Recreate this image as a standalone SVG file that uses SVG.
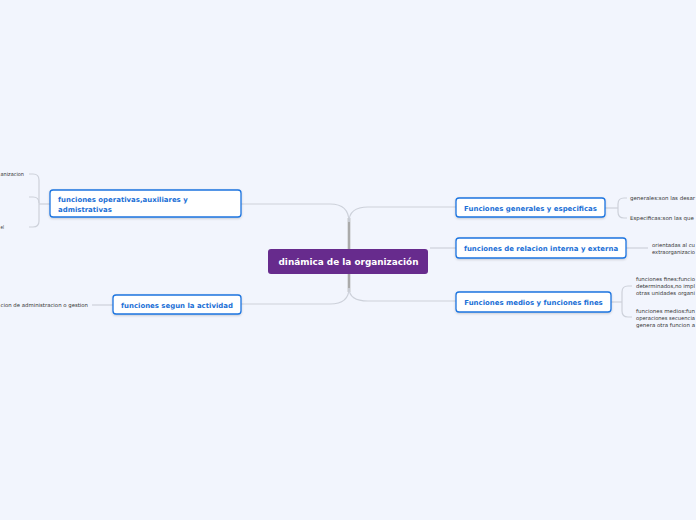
<svg xmlns="http://www.w3.org/2000/svg" width="696" height="520" viewBox="0 0 696 520">
<style>
.node rect{fill:#fff;stroke:#1c74e0;stroke-width:1.3}
.node text{font-family:"DejaVu Sans",Verdana,sans-serif;font-weight:bold;font-size:6.95px;fill:#1a6fd6}
.leaf{font-family:"DejaVu Sans",Verdana,sans-serif;font-size:5.3px;fill:#333}
.con path{fill:none;stroke:#cdd1da;stroke-width:1.2}
.con .trunk{stroke:#aaaaaa;stroke-width:2.6}
</style>
<defs>
<filter id="sh" x="-10%" y="-30%" width="120%" height="160%"><feDropShadow dx="0" dy="1" stdDeviation="1" flood-color="#000" flood-opacity="0.18"/></filter>
</defs>
<rect width="696" height="520" fill="#f2f5fd"/>
<g id="connectors" class="con">
<path class="trunk" d="M349 218 V292"/>
<path d="M241 204 H330 Q349 204 349 222"/>
<path d="M241 304 H330 Q349 304 349 288"/>
<path d="M456 207 H368 Q349 207 349 222"/>
<path d="M456 301 H368 Q349 301 349 288"/>
<path d="M430 248 H456"/>
<path d="M50 204 H39"/>
<path d="M29 174 H33 Q39 174 39 180 V221 Q39 227 33 227 H29"/>
<path d="M29 197 H33 Q39 197 39 203"/>
<path d="M113 305 H92"/>
<path d="M605 208 H618"/>
<path d="M627 198 H624 Q618 198 618 204 V212 Q618 218 624 218 H627"/>
<path d="M626 248 H648"/>
<path d="M611 302 H622"/>
<path d="M632 286 H628 Q622 286 622 292 V311 Q622 317 628 317 H632"/>
</g>
<g id="center">
<rect x="268" y="249" width="160" height="25" rx="3" fill="#672b8d"/>
<text x="348.5" y="264.5" text-anchor="middle" font-family="DejaVu Sans,Verdana,sans-serif" font-weight="bold" font-size="8.9px" fill="#fff">dinámica de la organización</text>
</g>
<g id="n-operativas" class="node">
<rect x="50" y="190" width="191" height="27" rx="3" filter="url(#sh)"/>
<text x="58" y="202">funciones operativas,auxiliares y</text>
<text x="58" y="211.5">admistrativas</text>
</g>
<g id="n-actividad" class="node">
<rect x="113" y="295" width="128" height="19" rx="3" filter="url(#sh)"/>
<text x="177" y="307.5" text-anchor="middle">funciones segun la actividad</text>
</g>
<g id="n-generales" class="node">
<rect x="456" y="198" width="149" height="19" rx="3" filter="url(#sh)"/>
<text x="530.5" y="210.5" text-anchor="middle">Funciones generales y especificas</text>
</g>
<g id="n-relacion" class="node">
<rect x="456" y="238" width="170" height="20" rx="3" filter="url(#sh)"/>
<text x="541" y="250.5" text-anchor="middle">funciones de relacion interna y externa</text>
</g>
<g id="n-medios" class="node">
<rect x="456" y="292" width="155" height="20" rx="3" filter="url(#sh)"/>
<text x="533.5" y="305" text-anchor="middle">Funciones medios y funciones fines</text>
</g>
<g id="leaves">
<text class="leaf" x="0.5" y="176" textLength="23.5" lengthAdjust="spacingAndGlyphs">anizacion</text>
<text class="leaf" x="0.5" y="229" textLength="3.5" lengthAdjust="spacingAndGlyphs">el</text>
<text class="leaf" x="0.5" y="307" textLength="87.5" lengthAdjust="spacingAndGlyphs">cion de administracion o gestion</text>
<text class="leaf" x="630" y="200" textLength="65" lengthAdjust="spacingAndGlyphs">generales:son las desar</text>
<text class="leaf" x="630" y="220" textLength="64" lengthAdjust="spacingAndGlyphs">Especificas:son las que</text>
<text class="leaf" x="652" y="247" textLength="43" lengthAdjust="spacingAndGlyphs">orientadas al cu</text>
<text class="leaf" x="652" y="254" textLength="43" lengthAdjust="spacingAndGlyphs">extraorganizacio</text>
<text class="leaf" x="636" y="281" textLength="59" lengthAdjust="spacingAndGlyphs">funciones fines:funcio</text>
<text class="leaf" x="636" y="288" textLength="59" lengthAdjust="spacingAndGlyphs">determinados,no impl</text>
<text class="leaf" x="636" y="295" textLength="59" lengthAdjust="spacingAndGlyphs">otras unidades organi</text>
<text class="leaf" x="636" y="313" textLength="59" lengthAdjust="spacingAndGlyphs">funciones medios:fun</text>
<text class="leaf" x="636" y="320" textLength="59" lengthAdjust="spacingAndGlyphs">operaciones secuencia</text>
<text class="leaf" x="636" y="327" textLength="59" lengthAdjust="spacingAndGlyphs">genera otra funcion a</text>
</g>
</svg>
